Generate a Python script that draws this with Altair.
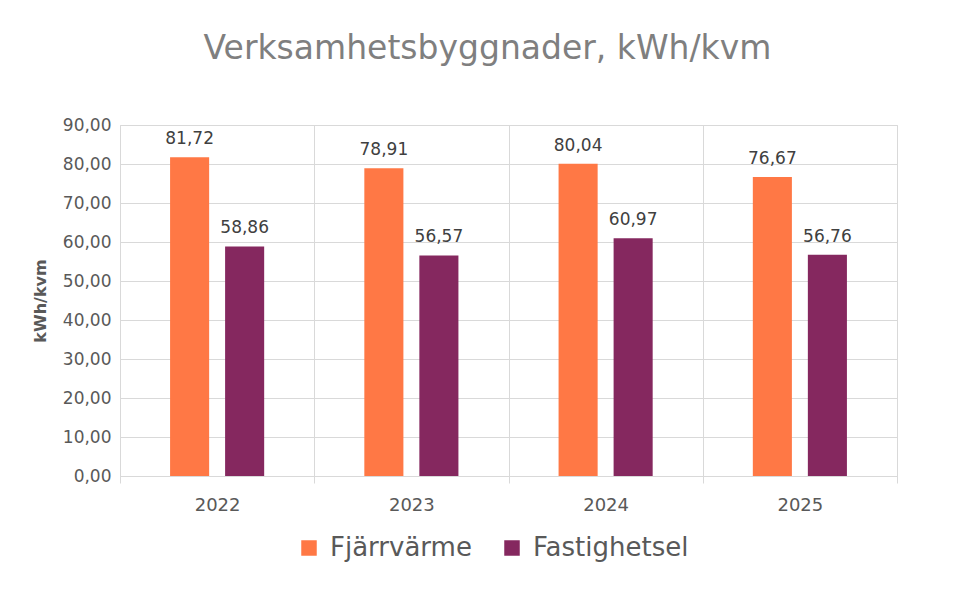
import altair as alt
import pandas as pd

years = ["2022", "2023", "2024", "2025"]
series = ["Fjärrvärme", "Fastighetsel"]
fjarrvarme = [81.72, 78.91, 80.04, 76.67]
fastighetsel = [58.86, 56.57, 60.97, 56.76]
colors = ["#FF7845", "#85285F"]

rows = []
for i, y in enumerate(years):
    rows.append({"year": y, "series": series[0], "value": fjarrvarme[i]})
    rows.append({"year": y, "series": series[1], "value": fastighetsel[i]})
df = pd.DataFrame(rows)

FONT = "DejaVu Sans"
GRID = "#D9D9D9"
TXT = "#595959"

x = alt.X("year:N", title=None, sort=years,
          scale=alt.Scale(paddingInner=0, paddingOuter=0),
          axis=alt.Axis(labelAngle=0, tickBand="extent", grid=True, gridColor=GRID,
                        ticks=True, tickSize=7, tickColor=GRID, domainColor=GRID,
                        labelFontSize=18, labelColor=TXT, labelPadding=13, labelFont=FONT))
xo = alt.XOffset("series:N", sort=series,
                 scale=alt.Scale(paddingInner=0.29, paddingOuter=0.91))
y = alt.Y("value:Q", title="kWh/kvm",
          scale=alt.Scale(domain=[0, 90], nice=False),
          axis=alt.Axis(values=list(range(0, 91, 10)), domain=False, ticks=False,
                        grid=True, gridColor=GRID, labelFontSize=17, labelColor=TXT,
                        labelFont=FONT, labelPadding=9, labelOverlap=False,
                        labelExpr="replace(format(datum.value, '.2f'), '.', ',')",
                        titleFontSize=16, titleFont=FONT, titleColor=TXT,
                        titleFontWeight="bold", titlePadding=14))
color = alt.Color("series:N", sort=series,
                  scale=alt.Scale(domain=series, range=colors),
                  legend=alt.Legend(title=None, orient="none", direction="horizontal",
                                    legendX=176, legendY=410, symbolType="square",
                                    symbolSize=240, symbolStrokeWidth=0,
                                    labelFontSize=26, labelColor=TXT, labelFont=FONT,
                                    columnPadding=27, labelOffset=8))

base = alt.Chart(df).encode(x=x, xOffset=xo, y=y)
bars = base.mark_bar().encode(color=color)
labels = base.transform_calculate(
    lbl="replace(format(datum.value, '.2f'), '.', ',')"
).mark_text(baseline="bottom", dy=-9, fontSize=17, color="#404040", font=FONT).encode(
    text="lbl:N")

chart = (bars + labels).properties(
    width=777, height=351,
    autosize=alt.AutoSizeParams(type="none"),
    padding={"left": 112, "top": 117, "right": 40, "bottom": 100},
    title=alt.TitleParams("Verksamhetsbyggnader, kWh/kvm", fontSize=33, font=FONT,
                          fontWeight="normal", color="#7F7F7F", anchor="middle",
                          offset=50, dx=-21),
).configure_view(stroke=None).configure(background="white")

chart.save("out.html", embed_options={"renderer": "svg", "actions": False})
